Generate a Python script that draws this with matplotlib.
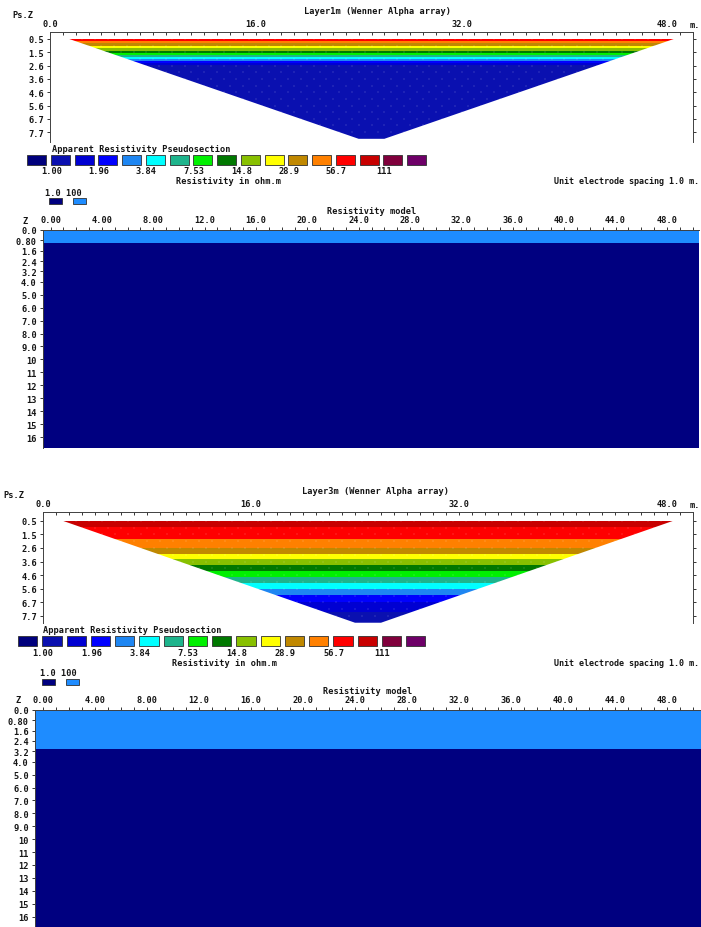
import numpy as np
import matplotlib
matplotlib.use("Agg")
import matplotlib.pyplot as plt
from matplotlib.colors import ListedColormap, BoundaryNorm
from matplotlib.patches import Polygon, Rectangle

plt.rcParams['font.family'] = ['DejaVu Sans Mono']
plt.rcParams['font.weight'] = 'bold'
FS = 6.2
INK = '#151515'

W, H = 701, 928

# ---- contour intervals of the apparent resistivity (ohm.m) ----
BOUNDS = [1.00, 1.40, 1.96, 2.74, 3.84, 5.37, 7.53, 10.5, 14.8, 20.7,
          28.9, 40.5, 56.7, 79.4, 111, 156]
BOUND_LABELS = ['1.00', '1.96', '3.84', '7.53', '14.8', '28.9', '56.7', '111']
BOX_COLORS = ['#00007C', '#0A10B0', '#0000D2', '#0000FF', '#1E86F2',
              '#00FFFF', '#1EB48C', '#00F000', '#007800', '#88C000',
              '#FFFF00', '#C08800', '#FF8000', '#FF0000', '#C80000',
              '#80003C', '#6E0068']

# ---- Wenner alpha pseudosection ----
A_SPACINGS = [1, 3, 5, 7, 9, 11, 13, 15]
PSEUDO_DEPTH_LABELS = ['0.5', '1.5', '2.6', '3.6', '4.6', '5.6', '6.7', '7.7']
LINE_LENGTH = 50.0
RHO_A_LAYER1M = [72, 12, 1.22, 1.2, 1.18, 1.16, 1.14, 1.12]
RHO_A_LAYER3M = [90, 68, 40.5, 18, 8.5, 3.84, 1.9, 1.25]

# ---- resistivity model ----
MODEL_RHO = [100, 1.0]           # top layer, basement
MODEL_THICK_1M = 1.0
MODEL_THICK_3M = 3.0
MODEL_LEGEND_VALUES = ['1.0', '100']
MODEL_COLORS = ['#000080', '#1E8CFF']
MODEL_DEPTH_TICKS = [0.0, 0.8, 1.6, 2.4, 3.2, 4.0, 5.0, 6.0, 7.0, 8.0, 9.0,
                     10, 11, 12, 13, 14, 15, 16]
MODEL_DEPTH_LABELS = ['0.0', '0.80', '1.6', '2.4', '3.2', '4.0', '5.0', '6.0',
                      '7.0', '8.0', '9.0', '10', '11', '12', '13', '14', '15', '16']
MODEL_X_TICKS = [0, 4, 8, 12, 16, 20, 24, 28, 32, 36, 40, 44, 48]
MODEL_X_LABELS = ['0.00', '4.00', '8.00', '12.0', '16.0', '20.0', '24.0',
                  '28.0', '32.0', '36.0', '40.0', '44.0', '48.0']
PS_X_TICKS = [0, 16, 32, 48]
PS_X_LABELS = ['0.0', '16.0', '32.0', '48.0']

fig = plt.figure(figsize=(W / 100, H / 100), dpi=100)


def add_ax(left, top, right, bottom):
    return fig.add_axes([left / W, 1 - bottom / H, (right - left) / W,
                         (bottom - top) / H])


def txt(x, y, s, ha='left', size=FS):
    fig.text(x / W, 1 - y / H, s, ha=ha, va='center', fontsize=size,
             color=INK, weight='bold')


def box(x0, y0, x1, y1, color):
    fig.patches.append(Rectangle((x0 / W, 1 - y1 / H), (x1 - x0) / W,
                                 (y1 - y0) / H, transform=fig.transFigure,
                                 facecolor=color, edgecolor='#303030', lw=0.6))


cmap = ListedColormap(BOX_COLORS[1:-1])
cmap.set_under(BOX_COLORS[0])
cmap.set_over(BOX_COLORS[-1])
log_bounds = np.log10(BOUNDS)
norm = BoundaryNorm(log_bounds, cmap.N)


def pseudosection(ax_box, rho_a, title, ps_x, title_x, title_y, ylim):
    ax = add_ax(*ax_box)
    a = np.array(A_SPACINGS, dtype=float)
    rows = np.arange(1, len(a) + 1, dtype=float)
    rows_ext = np.append(rows, rows[-1] + 0.5)
    z = np.log10(np.append(rho_a, rho_a[-1]))
    X, Y = np.meshgrid([0.0, LINE_LENGTH], rows_ext)
    Z = np.repeat(z[:, None], 2, axis=1)
    cs = ax.contourf(X, Y, Z, levels=log_bounds, cmap=cmap, norm=norm,
                     extend='both')
    # data coverage: each level spans 1.5a .. L-1.5a
    a_ext = np.append(a, a[-1] + 1)
    left = 1.5 * a_ext
    right = LINE_LENGTH - 1.5 * a_ext
    verts = ([(left[0], rows_ext[0]), (right[0], rows_ext[0]),
              (right[-1], rows_ext[-1]), (left[-1], rows_ext[-1])])
    clip = Polygon(verts, closed=True, transform=ax.transData,
                   facecolor='none', edgecolor='none')
    ax.add_patch(clip)
    cs.set_clip_path(clip)
    # datum points
    px, py = [], []
    for aa in range(1, 16):
        xs = np.arange(1.5 * aa, LINE_LENGTH - 1.5 * aa + 0.01, 1.0)
        px.extend(xs)
        py.extend([(aa + 1) / 2.0] * len(xs))
    ax.plot(px, py, ls='none', marker='+', ms=1.4, mew=0.3,
            color='white', alpha=0.2)
    ax.set_xlim(0, LINE_LENGTH)
    ax.set_ylim(*ylim)
    ax.xaxis.tick_top()
    ax.set_xticks(PS_X_TICKS, PS_X_LABELS)
    ax.set_xticks(np.arange(0, 51, 1), minor=True)
    ax.set_yticks(rows, PSEUDO_DEPTH_LABELS)
    ax.tick_params(axis='x', which='both', direction='in', top=True,
                   bottom=False, length=2, width=0.6, pad=3,
                   labelsize=FS, colors=INK)
    ax.tick_params(axis='y', which='both', direction='out', left=True,
                   right=True, length=2, width=0.6, pad=2, labelsize=FS,
                   colors=INK)
    ax.spines['bottom'].set_visible(False)
    for s in ('left', 'top', 'right'):
        ax.spines[s].set_linewidth(0.7)
        ax.spines[s].set_color('#404040')
    ax.set_facecolor('white')
    txt(ps_x, title_y + 3, 'Ps.Z')
    txt(title_x, title_y, title, ha='center')
    txt(700, title_y + 13, 'm.', ha='right')
    return ax


def colour_scale(x0, pitch, y0, y1, lab_y, title_y, unit_y, res_x):
    txt(x0 + 25, title_y, 'Apparent Resistivity Pseudosection')
    for i, c in enumerate(BOX_COLORS):
        bx = x0 + i * pitch
        box(bx, y0, bx + pitch * 0.8, y1, c)
    for j, lab in enumerate(BOUND_LABELS):
        bx = x0 + (2 * j + 1) * pitch - pitch * 0.1 + 3
        txt(bx, lab_y, lab, ha='center')
    txt(res_x, unit_y, 'Resistivity in ohm.m', ha='center')
    txt(699, unit_y, 'Unit electrode spacing 1.0 m.', ha='right', size=6.0)


def model_panel(ax_box, thick, xlim, depth_max, lx, ly, bx, by):
    txt(lx, ly, MODEL_LEGEND_VALUES[0] + ' ' + MODEL_LEGEND_VALUES[1])
    box(bx, by, bx + 13, by + 6, MODEL_COLORS[0])
    box(bx + 24, by, bx + 37, by + 6, MODEL_COLORS[1])
    ax = add_ax(*ax_box)
    mcmap = ListedColormap(MODEL_COLORS)
    mnorm = BoundaryNorm([0, 10, 1000], 2)
    xe = np.array(xlim)
    ye = np.array([0.0, thick, depth_max])
    ax.pcolormesh(xe, ye, np.array([[MODEL_RHO[0]], [MODEL_RHO[1]]]),
                  cmap=mcmap, norm=mnorm, shading='flat')
    ax.set_xlim(*xlim)
    ax.set_ylim(depth_max, 0)
    ax.xaxis.tick_top()
    ax.set_xticks(MODEL_X_TICKS, MODEL_X_LABELS)
    ax.set_xticks(np.arange(0, 51, 1), minor=True)
    ax.set_yticks(MODEL_DEPTH_TICKS, MODEL_DEPTH_LABELS)
    ax.tick_params(axis='x', which='both', direction='out', top=True,
                   bottom=False, length=2, width=0.6, pad=2,
                   labelsize=FS, colors=INK)
    ax.tick_params(axis='y', direction='out', left=True, length=2.5,
                   width=0.6, pad=2, labelsize=FS, colors=INK)
    for s in ('bottom', 'right'):
        ax.spines[s].set_visible(False)
    for s in ('left', 'top'):
        ax.spines[s].set_linewidth(0.7)
        ax.spines[s].set_color('#404040')
    return ax


# ---------- Layer 1 m ----------
pseudosection((50, 33, 693, 143), RHO_A_LAYER1M,
              'Layer1m (Wenner Alpha array)', 12, 377, 12, (8.74, 0.474))
colour_scale(27, 23.75, 155.7, 166, 172, 149, 182, 229)
m1 = model_panel((43, 231, 699, 449), MODEL_THICK_1M, (-0.59, 50.5), 16.85,
                 45, 193, 49, 199)
txt(372, 212, 'Resistivity model', ha='center')
txt(25, 222, 'Z', ha='center')

# ---------- Layer 3 m ----------
pseudosection((43, 513, 693, 624), RHO_A_LAYER3M,
              'Layer3m (Wenner Alpha array)', 3, 376, 492, (8.52, 0.36))
colour_scale(18, 24.25, 636.7, 646.7, 653, 631, 663, 224)
m2 = model_panel((35, 711, 701, 928), MODEL_THICK_3M, (-0.62, 50.6), 16.8,
                 40, 673, 42, 680)
txt(368, 692, 'Resistivity model', ha='center')
txt(18, 701, 'Z', ha='center')

fig.savefig('out.png', dpi=100, facecolor='white')
